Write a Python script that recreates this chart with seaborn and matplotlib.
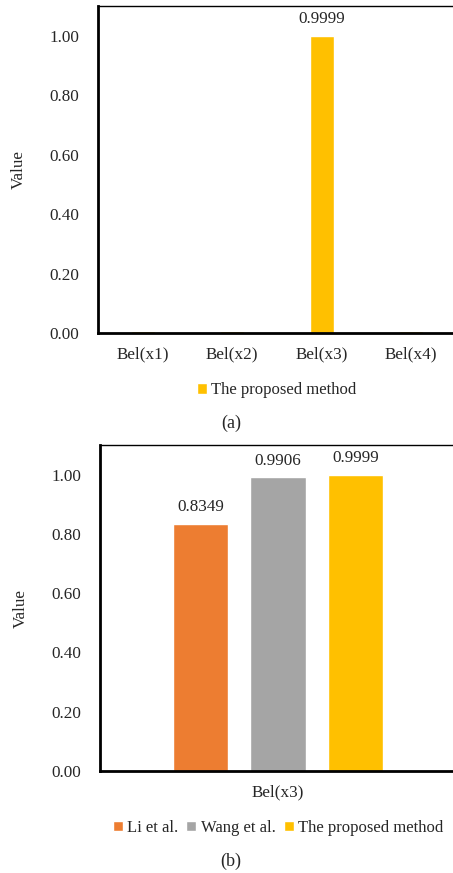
import matplotlib
matplotlib.use("Agg")
import matplotlib.pyplot as plt
import seaborn as sns
import pandas as pd

# ---- data ----
cats_a = ["Bel(x1)", "Bel(x2)", "Bel(x3)", "Bel(x4)"]
vals_a = [0.007, 0.007, 0.9999, 0.007]
labels_a = ["", "", "0.9999", ""]
series_a = "The proposed method"

cat_b = "Bel(x3)"
methods_b = ["Li et al.", "Wang et al.", "The proposed method"]
vals_b = [0.8349, 0.9906, 0.9999]
labels_b = ["0.8349", "0.9906", "0.9999"]

yticks = [0.0, 0.2, 0.4, 0.6, 0.8, 1.0]
ytick_labels = ["0.00", "0.20", "0.40", "0.60", "0.80", "1.00"]

colors_b = ["#ED7D31", "#A5A5A5", "#FFC000"]
color_a = "#FFC000"

sns.set_theme(style="white")
plt.rcParams["font.family"] = ["Liberation Serif", "DejaVu Serif"]

FS = 12.3
LFS = 12.0
W, H = 453, 873
fig = plt.figure(figsize=(W / 100, H / 100), dpi=100)

def style_axes(ax):
    ax.set_ylim(0, 1.10)
    ax.set_yticks(yticks)
    ax.set_yticklabels(ytick_labels, fontsize=FS)
    ax.tick_params(axis="y", length=0, pad=13.5)
    ax.tick_params(axis="x", length=0, pad=9.5)
    for lab in ax.get_xticklabels():
        lab.set_fontsize(FS)
    ax.set_xlabel("")
    ax.set_ylabel("Value", fontsize=FS, labelpad=16)
    ax.spines["left"].set_linewidth(2.0)
    ax.spines["bottom"].set_linewidth(2.0)
    ax.spines["top"].set_linewidth(1.0)
    ax.spines["right"].set_visible(False)
    for s in ax.spines.values():
        s.set_color("black")

# ---- panel (a) ----
ax1 = fig.add_axes([98 / W, (H - 333) / H, 358 / W, 327 / H])
df_a = pd.DataFrame({"cat": cats_a, "val": vals_a, "series": [series_a] * len(cats_a)})
sns.barplot(data=df_a, x="cat", y="val", hue="series", palette=[color_a],
            width=0.27, ax=ax1, saturation=1, legend=True)
style_axes(ax1)
ax1.bar_label(ax1.containers[0], labels=labels_a, padding=6, fontsize=FS)
ax1.legend(loc="upper center", bbox_to_anchor=(0.5, -0.13), ncol=1, frameon=False,
           fontsize=LFS, handlelength=0.6, handleheight=0.6, handletextpad=0.25,
           borderaxespad=0)
fig.text(231 / W, 1 - 423 / H, "(a)", ha="center", va="center", fontsize=13)

# ---- panel (b) ----
ax2 = fig.add_axes([100 / W, (H - 771) / H, 356 / W, 326 / H])
df_b = pd.DataFrame({"cat": [cat_b] * len(methods_b), "val": vals_b, "method": methods_b})
sns.barplot(data=df_b, x="cat", y="val", hue="method", hue_order=methods_b,
            palette=colors_b, width=0.653, gap=0.28, ax=ax2, saturation=1, legend=True)
style_axes(ax2)
for cont, lab in zip(ax2.containers, labels_b):
    ax2.bar_label(cont, labels=[lab], padding=6, fontsize=FS)
ax2.legend(loc="upper center", bbox_to_anchor=(0.5, -0.13), ncol=3, frameon=False,
           fontsize=LFS, handlelength=0.6, handleheight=0.6, handletextpad=0.25,
           columnspacing=0.5, borderaxespad=0)
fig.text(231 / W, 1 - 861 / H, "(b)", ha="center", va="center", fontsize=13)

fig.savefig("out.png", dpi=100)
